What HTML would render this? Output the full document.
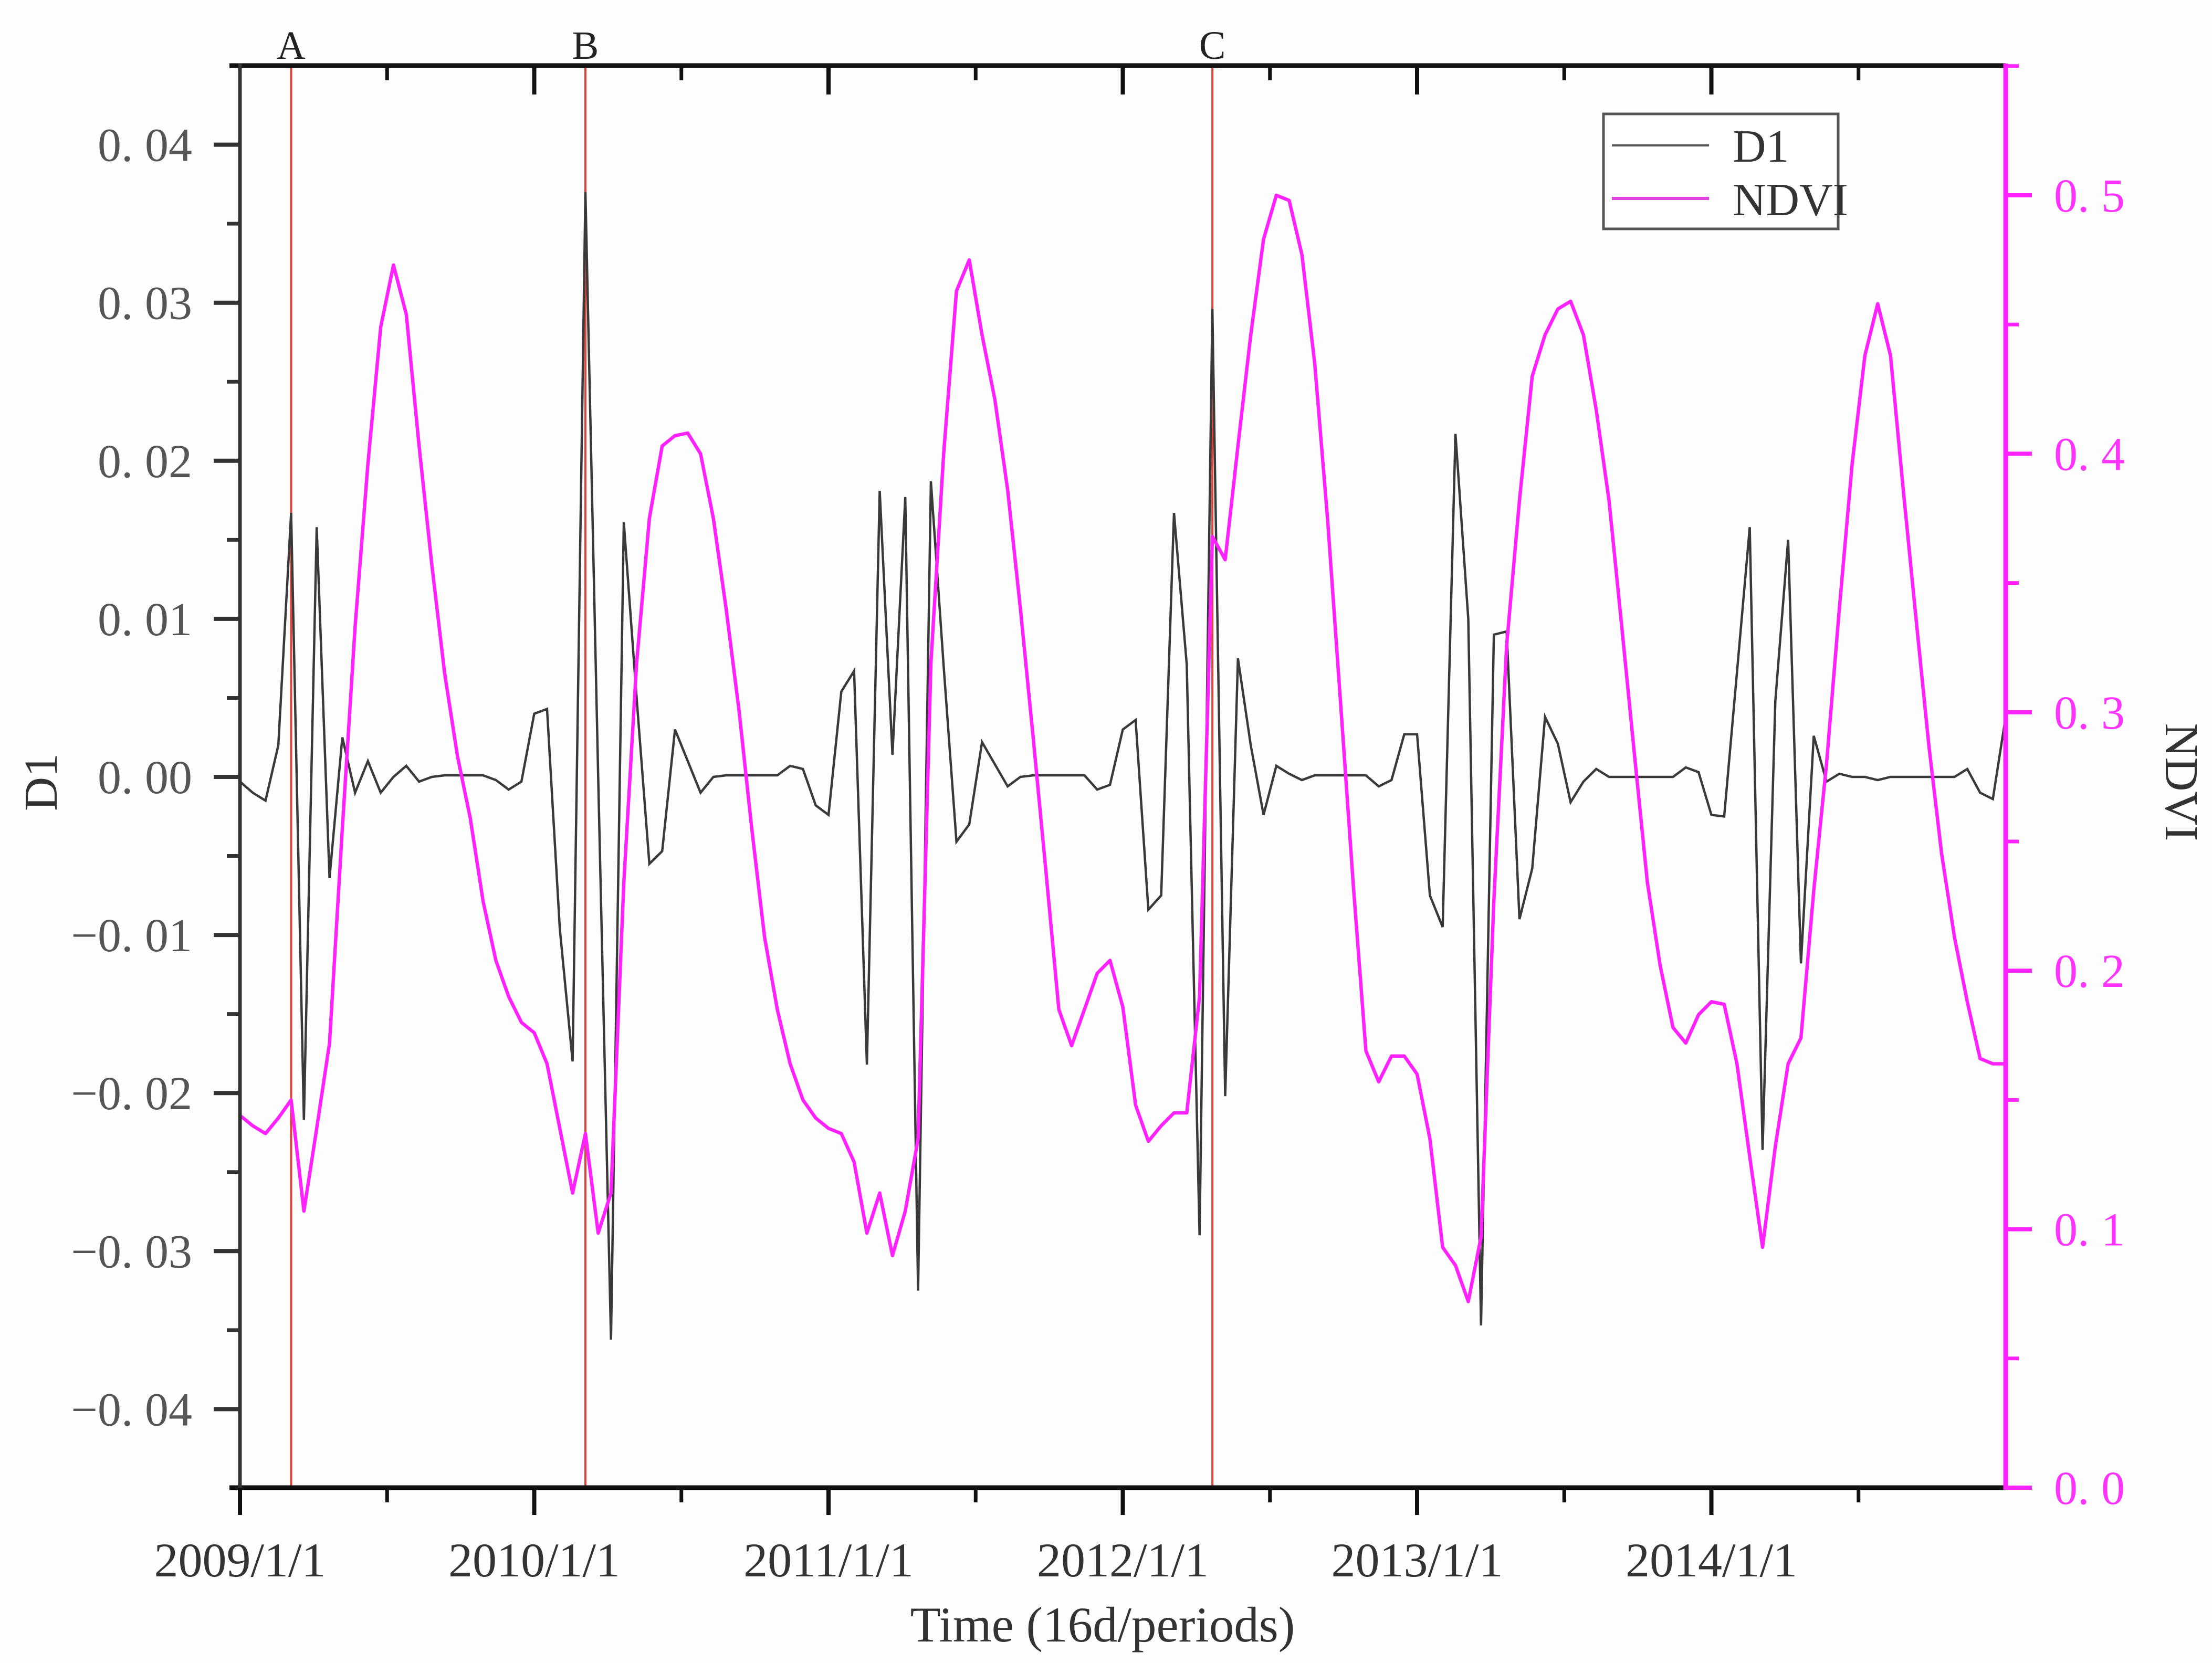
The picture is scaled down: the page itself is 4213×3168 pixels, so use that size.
<!DOCTYPE html>
<html><head><meta charset="utf-8"><style>
html,body{margin:0;padding:0;background:#fff;}
svg{display:block;font-family:"Liberation Serif",serif;}
</style></head><body>
<svg id="chart" width="4213" height="3168" viewBox="0 0 4213 3168" xmlns="http://www.w3.org/2000/svg">
<rect x="0" y="0" width="4213" height="3168" fill="#fdfdfd"/>
<g id="series-layer"></g>
<g id="axis-layer"></g>
<text x="2100" y="3127" font-size="95" text-anchor="middle" fill="#333">Time (16d/periods)</text>
<text transform="translate(108,1490) rotate(-90)" font-size="90" text-anchor="middle" fill="#333">D1</text>
<text transform="translate(4125,1490) rotate(90)" font-size="90" text-anchor="middle" fill="#333">NDVI</text>
<g>
<rect x="3054" y="217" width="447" height="219" fill="#fff" stroke="#555" stroke-width="5"/>
<line x1="3070" y1="277" x2="3255" y2="277" stroke="#555" stroke-width="4"/>
<text x="3300" y="308" font-size="88" fill="#333">D1</text>
<line x1="3070" y1="378" x2="3255" y2="378" stroke="#e040e0" stroke-width="6"/>
<text x="3300" y="410" font-size="88" fill="#333">NDVI</text>
</g>
</svg>
<script>
const d1Values = [-0.0003,-0.001,-0.0015,0.002,0.0167,-0.0217,0.0158,-0.0064,0.0025,-0.001,0.001,-0.001,0,0.0007,-0.0003,0,0.0001,0.0001,0.0001,0.0001,-0.0002,-0.0008,-0.0003,
0.004,0.0043,-0.0096,-0.018,0.037,0.0,-0.0356,0.0161,0.005,-0.0055,-0.0047,0.003,0.001,-0.001,0,0.0001,0.0001,0.0001,0.0001,0.0001,0.0007,0.0005,-0.0018,
-0.0024,0.0054,0.0067,-0.0182,0.0181,0.0014,0.0177,-0.0325,0.0187,0.007,-0.0041,-0.003,0.0022,0.0008,-0.0006,0,0.0001,0.0001,0.0001,0.0001,0.0001,-0.0008,-0.0005,
0.003,0.0036,-0.0084,-0.0075,0.0167,0.0071,-0.029,0.0296,-0.0202,0.0075,0.002,-0.0024,0.0007,0.0002,-0.0002,0.0001,0.0001,0.0001,0.0001,0.0001,-0.0006,-0.0002,0.0027,
0.0027,-0.0075,-0.0095,0.0217,0.01,-0.0347,0.009,0.0092,-0.009,-0.0058,0.0038,0.0021,-0.0016,-0.0003,0.0005,0,0,0,0,0,0,0.0006,0.0003,
-0.0024,-0.0025,0.0066,0.0158,-0.0236,0.0048,0.015,-0.0118,0.0026,-0.0003,0.0002,0,0,-0.0002,0,0,0,0,0,0,0.0005,-0.001,-0.0014,0.0038];
const ndviValues = [0.144,0.140,0.137,0.143,0.150,0.107,0.139,0.172,0.255,0.333,0.396,0.449,0.473,0.454,0.403,0.357,0.315,0.283,0.259,0.227,0.204,0.190,0.180,
0.176,0.164,0.139,0.114,0.137,0.0985,0.114,0.234,0.319,0.375,0.403,0.407,0.408,0.400,0.375,0.340,0.301,0.255,0.213,0.185,0.164,0.150,0.143,
0.139,0.137,0.126,0.0985,0.114,0.0898,0.107,0.135,0.319,0.400,0.463,0.475,0.446,0.421,0.386,0.340,0.290,0.238,0.185,0.171,0.185,0.199,0.204,
0.186,0.148,0.134,0.140,0.145,0.145,0.19,0.368,0.359,0.403,0.446,0.483,0.500,0.498,0.477,0.435,0.375,0.305,0.234,0.169,0.157,0.167,0.167,
0.160,0.135,0.093,0.086,0.072,0.097,0.227,0.326,0.382,0.430,0.446,0.456,0.459,0.446,0.417,0.382,0.333,0.283,0.234,0.202,0.178,0.172,0.183,
0.188,0.187,0.164,0.128,0.093,0.132,0.164,0.174,0.231,0.280,0.340,0.396,0.438,0.458,0.438,0.386,0.336,0.287,0.245,0.213,0.188,0.166,0.164,0.164];
const markerIndex = [4, 27, 76];
const markerLabels = ["A", "B", "C"];
const yearLabels = ["2009/1/1","2010/1/1","2011/1/1","2012/1/1","2013/1/1","2014/1/1"];
const d1Ticks = [0.04,0.03,0.02,0.01,0,-0.01,-0.02,-0.03,-0.04];
const d1TickLabels = ["0. 04","0. 03","0. 02","0. 01","0. 00","\u22120. 01","\u22120. 02","\u22120. 03","\u22120. 04"];
const ndviTicks = [0,0.1,0.2,0.3,0.4,0.5];
const ndviTickLabels = ["0. 0","0. 1","0. 2","0. 3","0. 4","0. 5"];

const NS = "http://www.w3.org/2000/svg";
const PL = 457, PR = 3820, PT = 125, PB = 2834;
const periodsPerYear = 23;
const totalPeriods = 138;
function xScale(i){ return PL + (PR - PL) * i / totalPeriods; }
function yD1(v){ return 1480 - v * 30110; }
function yNdvi(v){ return PB - v * 4924; }
function mk(tag, attrs, parent){ const e = document.createElementNS(NS, tag); for (const k in attrs) e.setAttribute(k, attrs[k]); parent.appendChild(e); return e; }

const seriesLayer = document.getElementById('series-layer');
const axisLayer = document.getElementById('axis-layer');

markerIndex.forEach((idx, j) => {
  const x = xScale(idx);
  const ln = mk('line', {x1:x, y1:PT, x2:x, y2:PB, stroke:'#e0453c', 'stroke-width':4}, seriesLayer);
  
  
  const t = mk('text', {x:x, y:112, 'font-size':76, 'text-anchor':'middle', fill:'#222'}, axisLayer);
  t.textContent = markerLabels[j];
  
  
});

const d1Pts = d1Values.map((v, i) => xScale(i).toFixed(1) + ',' + yD1(v).toFixed(1)).join(' ');
const d1Line = mk('polyline', {points:d1Pts, fill:'none', stroke:'#3a3a3a', 'stroke-width':4.5}, seriesLayer);



const ndPts = ndviValues.map((v, i) => xScale(i).toFixed(1) + ',' + yNdvi(v).toFixed(1)).join(' ');
const ndLine = mk('polyline', {points:ndPts, fill:'none', stroke:'#ff22ff', 'stroke-width':6.5, 'stroke-linejoin':'round'}, seriesLayer);



const topAxis = mk('line', {x1:437, y1:PT, x2:PR, y2:PT, stroke:'#111', 'stroke-width':9}, axisLayer);


const bottomAxis = mk('line', {x1:437, y1:PB, x2:PR, y2:PB, stroke:'#111', 'stroke-width':9}, axisLayer);


const leftAxis = mk('line', {x1:PL, y1:PT-4, x2:PL, y2:PB+4, stroke:'#333', 'stroke-width':7}, axisLayer);


const rightAxis = mk('line', {x1:PR, y1:PT-4, x2:PR, y2:PB+4, stroke:'#ff22ff', 'stroke-width':9}, axisLayer);



for (let y = 0; y < 6; y++) {
  const x = xScale(y * periodsPerYear);
  if (y > 0) {
    const tk = mk('line', {x1:x, y1:PT, x2:x, y2:PT+55, stroke:'#111', 'stroke-width':8}, axisLayer);
    
    
  }
  const bk = mk('line', {x1:x, y1:PB, x2:x, y2:PB+52, stroke:'#111', 'stroke-width':8}, axisLayer);
  
  
  const t = mk('text', {x:x, y:3003, 'font-size':92, 'text-anchor':'middle', fill:'#333'}, axisLayer);
  t.textContent = yearLabels[y];
  
  
  const xm = xScale((y + 0.5) * periodsPerYear);
  const m1 = mk('line', {x1:xm, y1:PT, x2:xm, y2:PT+28, stroke:'#111', 'stroke-width':7}, axisLayer);
  
  
  const m2 = mk('line', {x1:xm, y1:PB, x2:xm, y2:PB+28, stroke:'#111', 'stroke-width':7}, axisLayer);
  
  
}

d1Ticks.forEach((v, j) => {
  const y = yD1(v);
  const tk = mk('line', {x1:PL-50, y1:y, x2:PL, y2:y, stroke:'#333', 'stroke-width':8}, axisLayer);
  
  
  const t = mk('text', {x:366, y:y+31, 'font-size':90, 'text-anchor':'end', fill:'#555'}, axisLayer);
  t.textContent = d1TickLabels[j];
  
  
  if (v > -0.04) {
    const ym = yD1(v - 0.005);
    const m = mk('line', {x1:PL-25, y1:ym, x2:PL, y2:ym, stroke:'#333', 'stroke-width':7}, axisLayer);
    
    
  }
});

ndviTicks.forEach((v, j) => {
  const y = yNdvi(v);
  const tk = mk('line', {x1:PR, y1:y, x2:PR+50, y2:y, stroke:'#ff22ff', 'stroke-width':8}, axisLayer);
  
  
  const t = mk('text', {x:3912, y:y+31, 'font-size':90, 'text-anchor':'start', fill:'#ff33ff'}, axisLayer);
  t.textContent = ndviTickLabels[j];
  
  
  const ym = yNdvi(v + 0.05);
  const m = mk('line', {x1:PR, y1:ym, x2:PR+25, y2:ym, stroke:'#ff22ff', 'stroke-width':7}, axisLayer);
  
  
});
</script>
</body></html>
